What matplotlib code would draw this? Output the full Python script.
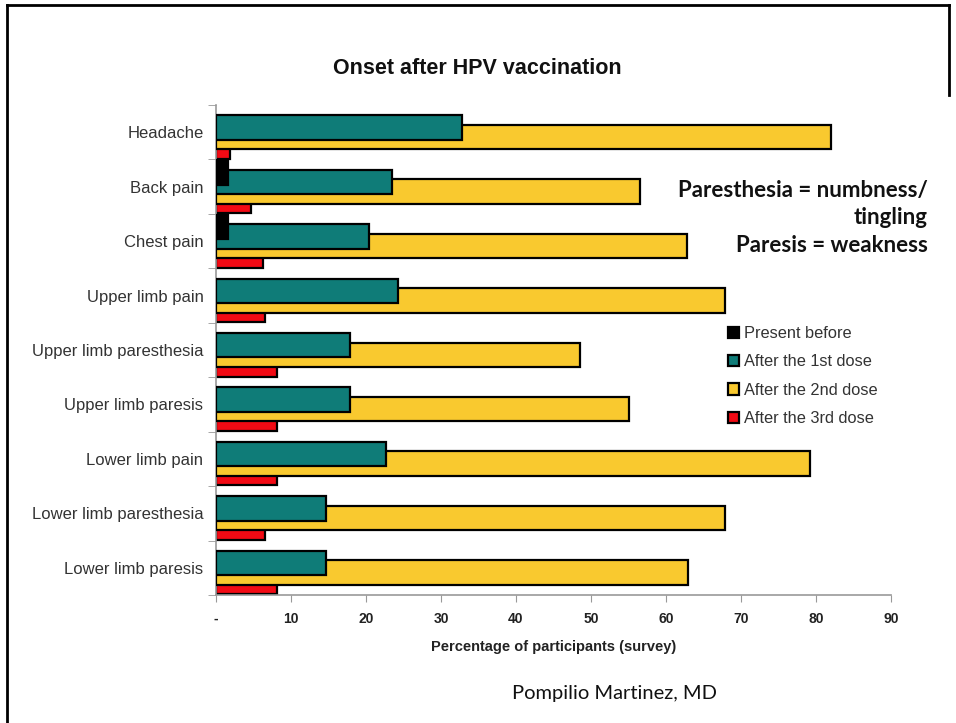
import numpy as np
import matplotlib.pyplot as plt
from matplotlib.patches import Patch
from matplotlib.lines import Line2D

# datos (porcentaje de participantes)
symptoms = ['Headache', 'Back pain', 'Chest pain', 'Upper limb pain',
            'Upper limb paresthesia', 'Upper limb paresis', 'Lower limb pain',
            'Lower limb paresthesia', 'Lower limb paresis']
present_before = [0, 1.6, 1.6, 0, 0, 0, 0, 0, 0]
after_1st = [32.8, 23.5, 20.4, 24.3, 17.9, 17.9, 22.7, 14.6, 14.6]
after_2nd = [82.0, 56.5, 62.8, 67.9, 48.5, 55.0, 79.2, 67.9, 62.9]
after_3rd = [1.9, 4.7, 6.3, 6.5, 8.1, 8.1, 8.1, 6.5, 8.1]
series_names = ['Present before', 'After the 1st dose', 'After the 2nd dose', 'After the 3rd dose']
xtick_vals = [0, 10, 20, 30, 40, 50, 60, 70, 80, 90]
xtick_labels = ['-', '10', '20', '30', '40', '50', '60', '70', '80', '90']

colors = ['#000000', '#0F7C78', '#F9C92F', '#F20A14']
arial = ['Liberation Sans', 'DejaVu Sans']
calibri = ['Lato', 'DejaVu Sans']

fig = plt.figure(figsize=(9.56, 7.23), dpi=100)
ax = fig.add_axes([216/956, 1 - 595/723, (891 - 216)/956, (595 - 105)/723])

y = np.arange(len(symptoms))
h = 0.45
step = 0.175
all_series = [present_before, after_1st, after_2nd, after_3rd]
offsets = [-1.5*step, -0.5*step, 0.5*step, 1.5*step]
# el rojo queda abajo, el negro encima de todo
for k in [3, 2, 1, 0]:
    vals = np.array(all_series[k])
    mask = vals > 0
    ax.barh(y[mask] + offsets[k], vals[mask], height=h, color=colors[k],
            edgecolor='black', linewidth=1.6, zorder=2 + (3 - k))

ax.set_xlim(0, 90)
ax.set_ylim(len(symptoms) - 0.5, -0.5)

ax.set_xticks(xtick_vals)
ax.set_xticklabels(xtick_labels, family=arial, fontweight='bold', fontsize=10, color='#222222')
ax.tick_params(axis='x', direction='out', length=5, color='#999999', pad=7)

ax.set_yticks(y)
ax.set_yticklabels(symptoms, family=arial, fontsize=12, color='#333333')
ax.tick_params(axis='y', which='major', length=0, pad=9)
ax.set_yticks(np.arange(len(symptoms) + 1) - 0.5, minor=True)
ax.tick_params(axis='y', which='minor', direction='out', length=6, color='#999999')

for s in ['top', 'right']:
    ax.spines[s].set_visible(False)
for s in ['left', 'bottom']:
    ax.spines[s].set_color('#999999')
    ax.spines[s].set_linewidth(1.2)

ax.set_xlabel('Percentage of participants (survey)', family=arial, fontweight='bold',
              fontsize=10.5, color='#222222', labelpad=10)

fig.text(477/956, 1 - 68/723, 'Onset after HPV vaccination', family=arial, fontweight='bold',
         fontsize=15.5, ha='center', va='center', color='#111111')

handles = [Patch(facecolor=c, edgecolor='black', linewidth=1.6) for c in colors]
fig.legend(handles, series_names, loc='upper left', bbox_to_anchor=(728/956, 1 - 326/723),
           frameon=False, prop={'family': arial, 'size': 11.8}, labelcolor='#333333',
           handlelength=0.7, handleheight=0.7, handletextpad=0.25, labelspacing=0.82,
           borderpad=0, borderaxespad=0)

fig.text(928/956, 1 - 180/723, 'Paresthesia = numbness/\ntingling\nParesis = weakness',
         family=calibri, fontweight='bold', fontsize=16, ha='right', va='top',
         linespacing=1.37, color='#111111')

fig.text(614/956, 1 - 693/723, 'Pompilio Martinez, MD', family=calibri, fontsize=14.5,
         ha='center', va='center', color='#111111')

# marco de la diapositiva
fig.add_artist(Line2D([7/956, 7/956], [0, 1 - 5/723], transform=fig.transFigure, color='black', lw=2))
fig.add_artist(Line2D([7/956, 949/956], [1 - 5/723, 1 - 5/723], transform=fig.transFigure, color='black', lw=2))
fig.add_artist(Line2D([949/956, 949/956], [1 - 5/723, 1 - 95/723], transform=fig.transFigure, color='black', lw=2))

fig.savefig('out.png', dpi=100)
